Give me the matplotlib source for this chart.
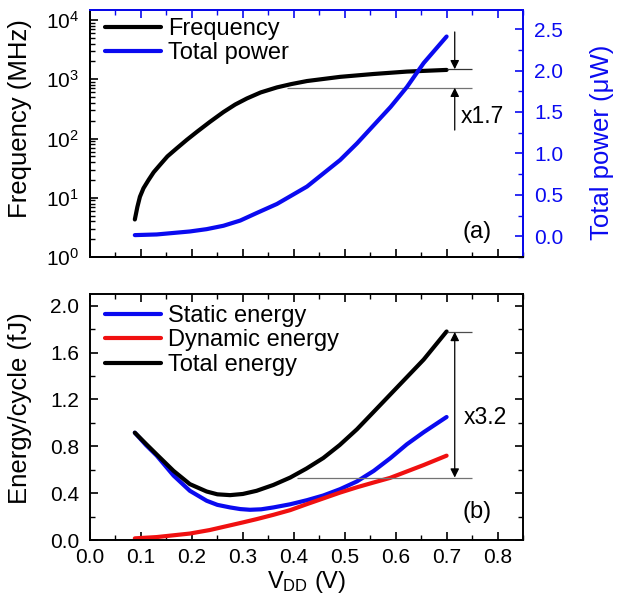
import numpy as np
import matplotlib
matplotlib.use('Agg')
import matplotlib.pyplot as plt
from matplotlib.ticker import MultipleLocator, LogLocator, NullFormatter

plt.rcParams['font.family'] = ['Liberation Sans', 'DejaVu Sans']
plt.rcParams['font.size'] = 15
plt.rcParams['mathtext.default'] = 'regular'

# (a) frequency and total power vs VDD
v_freq = [0.088, 0.093, 0.098, 0.105, 0.115, 0.125, 0.1375, 0.152, 0.17, 0.19, 0.21, 0.235,
          0.262, 0.285, 0.308, 0.335, 0.367, 0.395, 0.426, 0.491, 0.557, 0.622, 0.70]
freq = [4.3, 7.0, 10.4, 14.5, 20, 27, 36, 50, 68, 95, 130, 190, 280, 375, 475, 600, 730,
        830, 935, 1100, 1230, 1350, 1440]

v_pow = [0.088, 0.131, 0.196, 0.229, 0.262, 0.295, 0.327, 0.367, 0.426, 0.491, 0.524,
         0.557, 0.59, 0.622, 0.655, 0.70]
power = [0.014, 0.022, 0.058, 0.086, 0.127, 0.19, 0.28, 0.39, 0.60, 0.92, 1.12, 1.34,
         1.56, 1.80, 2.09, 2.41]

# (b) energy per cycle vs VDD
v_tot = [0.088, 0.11, 0.131, 0.164, 0.196, 0.229, 0.25, 0.275, 0.30, 0.327, 0.36, 0.393,
         0.425, 0.458, 0.49, 0.524, 0.556, 0.589, 0.622, 0.655, 0.70]
e_tot = [0.916, 0.82, 0.73, 0.59, 0.477, 0.414, 0.39, 0.383, 0.393, 0.42, 0.47, 0.533,
         0.61, 0.70, 0.81, 0.945, 1.09, 1.24, 1.39, 1.54, 1.78]

v_sta = [0.088, 0.11, 0.131, 0.164, 0.196, 0.229, 0.25, 0.275, 0.295, 0.314, 0.336, 0.36,
         0.393, 0.426, 0.458, 0.491, 0.524, 0.557, 0.59, 0.622, 0.655, 0.70]
e_sta = [0.916, 0.81, 0.72, 0.55, 0.42, 0.335, 0.30, 0.278, 0.264, 0.258, 0.262, 0.278,
         0.305, 0.34, 0.38, 0.434, 0.50, 0.59, 0.70, 0.817, 0.92, 1.05]

v_dyn = [0.088, 0.131, 0.196, 0.235, 0.275, 0.30, 0.327, 0.36, 0.393, 0.425, 0.458, 0.491,
         0.524, 0.556, 0.589, 0.622, 0.655, 0.70]
e_dyn = [0.014, 0.025, 0.055, 0.085, 0.125, 0.15, 0.178, 0.215, 0.255, 0.305, 0.355,
         0.405, 0.45, 0.49, 0.53, 0.585, 0.64, 0.72]

BLUE = '#0a0af0'
RED = '#f01010'
W, H = 622, 602

fig = plt.figure(figsize=(W / 100, H / 100), dpi=100)
ax1 = fig.add_axes([90 / W, 1 - 257 / H, 433 / W, 247 / H])
ax2 = fig.add_axes([90 / W, 1 - 540 / H, 433 / W, 246 / H])

leg_kw = dict(loc='upper left', frameon=False, borderpad=0, borderaxespad=0,
              handlelength=2.35, handletextpad=0.3, labelspacing=0.1, fontsize=17)

# ---- top panel
l1, = ax1.plot(v_freq, freq, color='black', lw=3, solid_capstyle='round', label='Frequency')
ax1.set_yscale('log')
ax1.set_ylim(1, 10 ** 4.17)
ax1.set_xlim(0, 0.85)
ax1.xaxis.set_major_locator(MultipleLocator(0.1))
ax1.xaxis.set_minor_locator(MultipleLocator(0.05))
ax1.yaxis.set_minor_locator(LogLocator(subs=np.arange(2, 10)))
ax1.yaxis.set_minor_formatter(NullFormatter())
ax1.set_ylabel('Frequency (MHz)', fontsize=18.5)
ax1.yaxis.set_label_coords(-0.135, 0.56)
ax1.tick_params(axis='x', which='both', bottom=True, top=False, labelbottom=False, direction='in')
ax1.tick_params(axis='y', which='both', direction='in', pad=8)
ax1.tick_params(which='major', length=6, width=1.2)
ax1.tick_params(which='minor', length=3.5, width=1)

ax1r = ax1.twinx()
l2, = ax1r.plot(v_pow, power, color=BLUE, lw=3, solid_capstyle='round', label='Total power')
ax1r.set_ylim(-0.25, 2.73)
ax1r.yaxis.set_major_locator(MultipleLocator(0.5))
ax1r.yaxis.set_minor_locator(MultipleLocator(0.25))
ax1r.yaxis.set_major_formatter(lambda y, p: f'{y:.1f}')
ax1r.set_ylabel('Total power (\u03bcW)', color=BLUE, fontsize=18.5)
ax1r.yaxis.set_label_coords(1.155, 0.465)
ax1r.tick_params(axis='y', which='both', direction='in', colors=BLUE, pad=8)
ax1r.xaxis.set_visible(True)
ax1r.tick_params(axis='x', which='both', bottom=False, top=True, labelbottom=False,
                 labeltop=False, direction='in', color=BLUE)
ax1r.tick_params(which='major', length=6, width=1.2)
ax1r.tick_params(which='minor', length=3.5, width=1)
for s in ['top', 'right']:
    ax1r.spines[s].set_color(BLUE)
for a in (ax1, ax1r):
    for s in a.spines.values():
        s.set_linewidth(1.4)

ax1r.legend(handles=[l1, l2], bbox_to_anchor=(0.035, 0.968), **leg_kw)

# x1.7 annotation
f_hi, f_lo = 1480, 720
ax1.hlines(f_hi, 0.700, 0.75, color='0.2', lw=0.9)
ax1.hlines(f_lo, 0.386, 0.75, color='0.45', lw=0.9)
ax1.annotate('', xy=(0.716, f_hi), xytext=(0.716, 6300),
             arrowprops=dict(arrowstyle='-|>', color='black', lw=0.9, mutation_scale=13, shrinkA=0, shrinkB=0))
ax1.annotate('', xy=(0.716, f_lo), xytext=(0.716, 139),
             arrowprops=dict(arrowstyle='-|>', color='black', lw=0.9, mutation_scale=13, shrinkA=0, shrinkB=0))
ax1.text(0.727, 235, 'x1.7', va='center', ha='left', fontsize=16.5)
ax1.text(0.928, 0.10, '(a)', transform=ax1.transAxes, ha='right', va='center', fontsize=17)

# ---- bottom panel
ax2.plot(v_sta, e_sta, color=BLUE, lw=3, solid_capstyle='round', label='Static energy')
ax2.plot(v_dyn, e_dyn, color=RED, lw=3, solid_capstyle='round', label='Dynamic energy')
ax2.plot(v_tot, e_tot, color='black', lw=3, solid_capstyle='round', label='Total energy')
ax2.set_xlim(0, 0.85)
ax2.set_ylim(0, 2.1)
ax2.xaxis.set_major_locator(MultipleLocator(0.1))
ax2.xaxis.set_minor_locator(MultipleLocator(0.05))
ax2.yaxis.set_major_locator(MultipleLocator(0.4))
ax2.yaxis.set_minor_locator(MultipleLocator(0.2))
ax2.xaxis.set_major_formatter(lambda x, p: f'{x:.1f}')
ax2.yaxis.set_major_formatter(lambda y, p: f'{y:.1f}')
ax2.tick_params(which='both', direction='in', top=True, right=True)
ax2.tick_params(axis='y', pad=8)
ax2.tick_params(axis='x', pad=6)
ax2.tick_params(which='major', length=6, width=1.2)
ax2.tick_params(which='minor', length=3.5, width=1)
for s in ax2.spines.values():
    s.set_linewidth(1.4)
ax2.set_xlabel('V$_{DD}$ (V)', fontsize=17)
ax2.xaxis.set_label_coords(0.5, -0.118)
ax2.set_ylabel('Energy/cycle (fJ)', fontsize=18.5)
ax2.yaxis.set_label_coords(-0.135, 0.537)
ax2.legend(bbox_to_anchor=(0.035, 0.955), **leg_kw)

e_hi, e_lo = 1.776, 0.533
ax2.hlines(e_hi, 0.700, 0.75, color='0.3', lw=0.9)
ax2.hlines(e_lo, 0.406, 0.75, color='0.45', lw=0.9)
ax2.annotate('', xy=(0.716, e_lo), xytext=(0.716, e_hi),
             arrowprops=dict(arrowstyle='<|-|>', color='black', lw=0.9, mutation_scale=13, shrinkA=0, shrinkB=0))
ax2.text(0.733, 1.044, 'x3.2', va='center', ha='left', fontsize=16.5)
ax2.text(0.928, 0.114, '(b)', transform=ax2.transAxes, ha='right', va='center', fontsize=17)

fig.savefig('out.png', dpi=100)
